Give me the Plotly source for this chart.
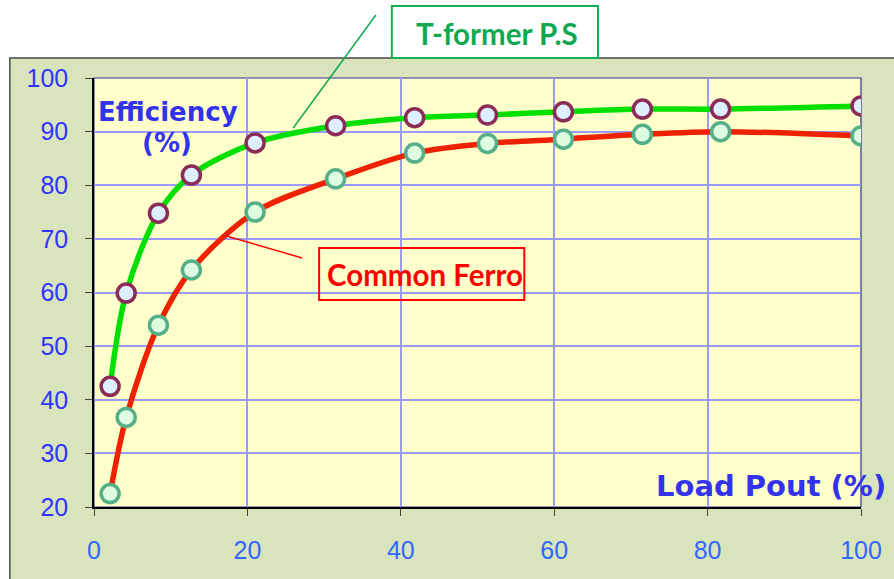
import plotly.graph_objects as go

# Data
load_pct = [2.1, 4.2, 8.4, 12.7, 21.0, 31.5, 41.8, 51.3, 61.2, 71.5, 81.7, 100.0]
tformer_eff = [42.5, 59.9, 74.8, 81.9, 87.9, 91.1, 92.6, 93.1, 93.7, 94.2, 94.2, 94.8]
ferro_eff = [22.5, 36.7, 53.9, 64.2, 75.0, 81.2, 86.0, 87.8, 88.6, 89.5, 90.0, 89.2]

x_ticks = [0, 20, 40, 60, 80, 100]
y_ticks = [20, 30, 40, 50, 60, 70, 80, 90, 100]

W, H = 894, 579
ML, MT = 94, 78
PW, PH = 770, 429
MR, MB = W - ML - PW, H - MT - PH


def px(x):
    return (x - ML) / PW


def py(y):
    return (MT + PH - y) / PH


fig = go.Figure()

fig.add_trace(go.Scatter(
    x=load_pct, y=tformer_eff, mode="lines+markers", name="T-former P.S",
    line=dict(color="#00e000", width=5.5, shape="spline", smoothing=0.9),
    marker=dict(size=18, color="#ddeeff", line=dict(color="#8b2c58", width=3.5)),
))
fig.add_trace(go.Scatter(
    x=load_pct, y=ferro_eff, mode="lines+markers", name="Common Ferro",
    line=dict(color="#ee2200", width=5.5, shape="spline", smoothing=0.9),
    marker=dict(size=18, color="#ddfce0", line=dict(color="#55b08a", width=3.5)),
))

shapes = [
    # outer chart-area background
    dict(type="rect", xref="paper", yref="paper", x0=px(9.5), x1=px(905), y0=py(590), y1=py(58),
         fillcolor="#d8e4bc", line=dict(color="#4a4a4a", width=1.5), layer="below"),
    # plot area background
    dict(type="rect", xref="paper", yref="paper", x0=0, x1=1, y0=0, y1=1,
         fillcolor="#ffffcc", line=dict(color="#333399", width=1.2), layer="below"),
    # T-former label box
    dict(type="rect", xref="paper", yref="paper", x0=px(393), x1=px(600), y0=py(58), y1=py(6),
         fillcolor="white", line=dict(color="#10b050", width=2), layer="above"),
    dict(type="line", xref="paper", yref="paper", x0=px(377), x1=px(294), y0=py(15), y1=py(128),
         line=dict(color="#10a850", width=1.5), layer="above"),
    # Common Ferro label box
    dict(type="rect", xref="paper", yref="paper", x0=px(320), x1=px(526), y0=py(300), y1=py(248),
         fillcolor="rgba(0,0,0,0)", line=dict(color="#ff0000", width=2), layer="above"),
    dict(type="line", xref="paper", yref="paper", x0=px(303), x1=px(227), y0=py(258), y1=py(236),
         line=dict(color="#ff0000", width=1.5), layer="above"),
]

annotations = [
    dict(text="<b>T-former P.S</b>", xref="paper", yref="paper", x=px(499), y=py(33),
         xanchor="center", yanchor="middle", showarrow=False,
         font=dict(family="Lato", size=29.5, color="#10a850")),
    dict(text="<b>Common Ferro</b>", xref="paper", yref="paper", x=px(426), y=py(274),
         xanchor="center", yanchor="middle", showarrow=False,
         font=dict(family="Lato", size=29.5, color="#ff0000")),
    dict(text="<b>Efficiency</b>", xref="paper", yref="paper", x=px(168), y=py(112),
         xanchor="center", yanchor="middle", showarrow=False,
         font=dict(family="DejaVu Sans", size=26, color="#3333ee")),
    dict(text="<b>(%)</b>", xref="paper", yref="paper", x=px(167), y=py(143),
         xanchor="center", yanchor="middle", showarrow=False,
         font=dict(family="DejaVu Sans", size=26, color="#3333ee")),
    dict(text="<b>Load Pout (%)</b>", xref="paper", yref="paper", x=px(774), y=py(486),
         xanchor="center", yanchor="middle", showarrow=False,
         font=dict(family="DejaVu Sans", size=29, color="#3333ee")),
]

fig.update_layout(
    width=W, height=H,
    margin=dict(l=ML, r=MR, t=MT, b=MB),
    paper_bgcolor="white",
    plot_bgcolor="rgba(0,0,0,0)",
    showlegend=False,
    shapes=shapes,
    annotations=annotations,
)

fig.update_xaxes(
    range=[0, 100], tickvals=x_ticks, ticktext=[str(v) for v in x_ticks],
    showgrid=True, gridcolor="#9999ff", gridwidth=2,
    showline=True, linecolor="black", linewidth=1.5, mirror=False,
    ticks="outside", ticklen=7, tickcolor="#444444", tickwidth=1,
    tickfont=dict(family="Liberation Sans", size=25, color="#3366ff"),
    ticklabelstandoff=13, zeroline=False,
)
fig.update_yaxes(
    range=[20, 100], tickvals=y_ticks, ticktext=[str(v) for v in y_ticks],
    showgrid=True, gridcolor="#9999ff", gridwidth=2,
    showline=True, linecolor="black", linewidth=1.5, mirror=False,
    ticks="outside", ticklen=7, tickcolor="#444444", tickwidth=1,
    tickfont=dict(family="Liberation Sans", size=25, color="#3333ff"),
    ticklabelstandoff=12, zeroline=False,
)

fig.write_html(
    "out.html",
    config={"displayModeBar": False},
    post_script="document.body.style.margin='0px';document.body.style.overflow='hidden';",
)
